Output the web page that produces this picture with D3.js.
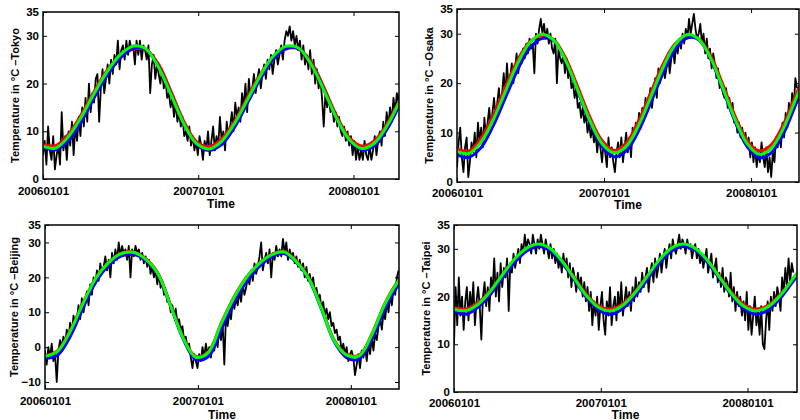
<!DOCTYPE html>
<html>
<head>
<meta charset="utf-8">
<script src="https://cdn.jsdelivr.net/npm/d3@7"></script>
<style>
  body { margin: 0; background: #fff; }
  svg text { font-family: "Liberation Sans", Arial, sans-serif; font-weight: bold; }
</style>
</head>
<body>
<svg id="chart" width="800" height="420"></svg>
<script>
// daily series are sampled every 4 days, fitted curves every 30 days, from 2006-01-01
var cities = ["Tokyo", "Osaka", "Beijing", "Taipei"]
var xTickLabels = ["20060101", "20070101", "20080101"]
var yTicksDefault = [0, 10, 20, 30, 35]
var yTicksBeijing = [-10, 0, 10, 20, 30, 35]

var tokyoDaily = [
  5, 8, 3, 11, 6, 4, 9, 2, 5, 7,
  3, 14, 6, 9, 4, 10, 7, 12, 5, 11,
  8, 13, 9, 15, 11, 17, 12, 20, 14, 18,
  16, 21, 22, 12, 19, 23, 18, 21, 24, 20,
  25, 22, 26, 24, 29, 23, 27, 28, 25, 29,
  26, 29, 27, 28, 24, 29, 26, 29, 25, 28,
  27, 25, 28, 18, 24, 26, 21, 24, 22, 20,
  23, 19, 21, 17, 18, 15, 17, 13, 16, 12,
  14, 11, 13, 9, 10, 8, 11, 7, 9, 6,
  8, 5, 9, 7, 4, 8, 6, 10, 5, 8,
  11, 6, 9, 7, 13, 8, 10, 6, 12, 9,
  11, 14, 10, 16, 13, 15, 12, 18, 15, 20,
  14, 21, 17, 19, 22, 18, 21, 23, 19, 22,
  24, 21, 25, 23, 26, 22, 25, 27, 24, 26,
  28, 25, 29, 31, 30, 32, 29, 31, 28, 30,
  27, 29, 25, 28, 24, 26, 23, 27, 22, 25,
  20, 23, 19, 21, 17, 11, 18, 15, 17, 14,
  15, 12, 14, 11, 13, 10, 9, 11, 8, 10,
  7, 9, 5, 8, 4, 7, 4, 6, 4, 8,
  5, 4, 7, 4, 6, 9, 5, 8, 10, 7,
  12, 9, 14, 11, 15, 12, 17, 14, 18, 16,
  19, 17
]
var tokyoRed = [7.2, 7.0, 9.4, 13.5, 18.3, 22.7, 25.8, 27.2, 27.2, 24.3, 18.6, 12.3, 7.9, 6.8, 8.4, 12.0, 17.0, 21.8, 25.4, 27.2, 27.3, 24.6, 19.3, 13.3, 8.7, 6.9, 8.1, 11.7, 16.7, 21.3]
var tokyoBlue = [6.6, 6.1, 8.0, 12.0, 17.0, 21.6, 25.2, 27.3, 27.3, 23.8, 18.0, 11.8, 7.3, 6.0, 7.2, 10.8, 15.8, 20.8, 25.0, 27.3, 27.4, 24.2, 18.8, 12.8, 8.1, 6.1, 7.0, 10.6, 15.8, 20.8]
var tokyoGreen = [6.8, 6.5, 8.9, 13.0, 17.9, 22.4, 25.9, 27.8, 27.4, 23.7, 17.9, 11.8, 7.5, 6.3, 7.9, 11.6, 16.5, 21.5, 25.6, 27.8, 27.5, 24.1, 18.7, 12.8, 8.3, 6.4, 7.6, 11.3, 16.5, 21.5]

var osakaDaily = [
  3, 8, 11, 5, 2, 7, 9, 1, 4, 8,
  6, 10, 5, 12, 8, 11, 7, 13, 9, 12,
  15, 11, 14, 17, 13, 16, 19, 15, 18, 22,
  17, 24, 19, 21, 24, 20, 23, 26, 22, 25,
  24, 27, 25, 28, 26, 29, 27, 28, 22, 30,
  28, 31, 33, 30, 32, 29, 31, 28, 30, 27,
  26, 29, 20, 27, 25, 24, 26, 22, 25, 21,
  23, 19, 20, 17, 19, 15, 16, 13, 15, 12,
  14, 10, 12, 9, 11, 8, 10, 6, 9, 7,
  4, 8, 6, 3, 9, 5, 7, 4, 2, 6,
  8, 5, 9, 4, 7, 10, 6, 9, 5, 11,
  9, 12, 10, 14, 11, 15, 13, 17, 14, 16,
  19, 15, 18, 21, 17, 23, 20, 22, 24, 21,
  23, 26, 22, 25, 27, 24, 28, 26, 29, 27,
  30, 28, 31, 29, 33, 30, 32, 34, 31, 29,
  30, 32, 28, 30, 26, 29, 25, 27, 23, 26,
  24, 21, 23, 19, 20, 18, 17, 19, 15, 17,
  14, 16, 12, 13, 10, 12, 9, 11, 8, 10,
  7, 9, 5, 8, 4, 7, 3, 6, 4, 8,
  5, 3, 7, 2, 5, 1, 6, 4, 9, 7,
  10, 7, 12, 9, 14, 11, 16, 13, 18, 15,
  21, 19
]
var osakaRed = [6.7, 6.3, 8.9, 13.5, 19.2, 24.6, 28.3, 29.6, 28.8, 25.0, 19.2, 13.1, 8.4, 6.4, 7.9, 12.2, 17.9, 23.6, 27.8, 29.6, 29.0, 25.5, 19.7, 13.4, 8.4, 6.3, 7.5, 11.6, 17.4, 23.0]
var osakaBlue = [5.5, 5.0, 7.0, 11.4, 17.0, 22.6, 27.0, 29.0, 28.6, 24.4, 18.3, 12.0, 7.2, 5.1, 6.3, 10.2, 15.8, 21.7, 26.6, 29.1, 28.8, 24.8, 18.7, 12.3, 7.2, 4.9, 5.9, 9.7, 15.5, 21.5]
var osakaGreen = [6.2, 5.8, 8.1, 12.6, 18.3, 23.9, 28.1, 29.9, 28.7, 24.5, 18.5, 12.4, 7.8, 5.9, 7.2, 11.3, 17.0, 22.9, 27.6, 29.8, 28.9, 25.0, 19.0, 12.7, 7.8, 5.6, 6.8, 10.8, 16.6, 22.5]

var beijingDaily = [
  -1, -5, 0, -3, 1, -4, -2, -10, -1, 2,
  0, 3, 1, 5, 2, 7, 4, 9, 6, 8,
  12, 8, 14, 10, 13, 16, 12, 18, 15, 20,
  18, 22, 19, 24, 21, 23, 26, 22, 25, 20,
  27, 24, 28, 25, 30, 26, 29, 27, 28, 25,
  29, 20, 28, 26, 29, 27, 28, 25, 27, 24,
  26, 23, 25, 21, 23, 20, 22, 18, 21, 17,
  19, 15, 16, 13, 14, 10, 12, 9, 11, 7,
  8, 5, 6, 2, 3, 0, 1, -3, -6, -2,
  -4, -6, -2, -4, 0, -3, 1, -2, 0, -3,
  1, -1, 3, 0, 5, 2, 7, -5, 9, 6,
  10, 8, 13, 11, 14, 12, 16, 13, 18, 15,
  17, 20, 18, 22, 19, 24, 21, 23, 26, 30,
  22, 25, 27, 24, 28, 20, 27, 25, 29, 26,
  28, 26, 31, 27, 30, 25, 28, 26, 27, 24,
  26, 23, 25, 22, 24, 20, 23, 19, 21, 18,
  20, 16, 17, 14, 15, 11, 13, 9, 11, 8,
  10, 6, 7, 4, 5, 2, 3, -1, 1, -2,
  0, -4, -2, -1, -3, -8, -5, -2, -6, -1,
  -3, 0, -4, 1, -2, 3, -1, 4, 2, 6,
  8, 5, 10, 8, 13, 10, 15, 12, 17, 15,
  20, 22
]
var beijingRed = [-2.5, -1.0, 4.7, 12.5, 19.6, 24.1, 26.8, 27.3, 25.4, 21.1, 12.0, 2.7, -2.7, -1.3, 6.7, 14.1, 19.9, 23.9, 26.5, 27.4, 24.7, 19.8, 11.3, 2.1, -2.1, -2.3, 3.7, 12.2, 18.5, 22.7]
var beijingBlue = [-3.2, -2.3, 3.0, 11.0, 18.4, 23.2, 26.0, 26.6, 24.9, 20.7, 11.7, 2.3, -3.5, -2.7, 4.8, 12.5, 18.6, 22.9, 25.8, 26.8, 24.3, 19.4, 10.9, 1.7, -3.0, -3.4, 2.2, 10.6, 17.2, 21.6]
var beijingGreen = [-2.6, -1.2, 4.5, 12.3, 19.5, 24.0, 26.7, 27.2, 25.2, 20.9, 11.8, 2.5, -2.9, -1.5, 6.5, 13.9, 19.8, 23.8, 26.4, 27.3, 24.5, 19.6, 11.1, 1.9, -2.3, -2.5, 3.5, 12.0, 18.3, 22.5]

var taipeiDaily = [
  10, 22, 14, 24, 16, 20, 13, 19, 22, 15,
  21, 17, 23, 14, 19, 22, 18, 11, 20, 23,
  18, 22, 17, 24, 21, 28, 20, 25, 19, 27,
  22, 26, 24, 28, 17, 27, 25, 29, 26, 28,
  30, 27, 31, 29, 33, 30, 32, 31, 29, 33,
  31, 29, 32, 30, 33, 31, 29, 32, 30, 28,
  31, 28, 30, 27, 29, 26, 28, 25, 29, 26,
  28, 24, 27, 22, 26, 24, 21, 25, 22, 24,
  20, 23, 19, 22, 17, 21, 14, 19, 16, 20,
  13, 18, 21, 15, 12, 19, 16, 22, 14, 18,
  20, 15, 21, 17, 23, 16, 19, 22, 18, 21,
  17, 22, 19, 24, 20, 23, 21, 25, 22, 24,
  26, 21, 25, 27, 23, 28, 24, 26, 29, 25,
  28, 30, 26, 29, 31, 28, 32, 30, 29, 31,
  33, 30, 32, 31, 29, 32, 30, 31, 28, 30,
  31, 28, 30, 27, 29, 26, 28, 30, 25, 27,
  29, 24, 26, 28, 23, 25, 22, 26, 21, 24,
  23, 20, 25, 19, 22, 17, 21, 18, 20, 16,
  19, 15, 21, 13, 18, 12, 16, 20, 14, 17,
  12, 18, 10, 9, 15, 19, 13, 20, 17, 21,
  18, 22, 20, 17, 24, 21, 26, 22, 28, 23,
  27, 25
]
var taipeiRed = [17.7, 17.4, 18.7, 21.2, 24.5, 27.6, 29.8, 30.6, 29.8, 27.3, 23.9, 20.4, 18.0, 17.4, 18.5, 21.0, 24.2, 27.4, 29.8, 30.6, 29.9, 27.6, 24.3, 20.9, 18.4, 17.4, 18.1, 20.3, 23.4, 26.6]
var taipeiBlue = [17.0, 16.3, 17.8, 20.4, 23.8, 27.1, 29.5, 30.5, 29.6, 26.9, 23.4, 19.8, 17.2, 16.3, 17.5, 20.1, 23.5, 26.9, 29.5, 30.5, 29.7, 27.2, 23.8, 20.3, 17.5, 16.3, 17.1, 19.5, 22.8, 26.2]
var taipeiGreen = [17.3, 17.05, 18.4, 21.05, 24.5, 27.8, 30.1, 31.0, 30.0, 27.3, 23.7, 20.1, 17.7, 17.0, 18.2, 20.8, 24.2, 27.6, 30.1, 31.0, 30.1, 27.6, 24.1, 20.6, 18.0, 17.0, 17.8, 20.1, 23.4, 26.8]

var start = new Date(2006, 0, 1)
var dailyStep = 4
var smoothStep = 30
var tickDates = [new Date(2006, 0, 1), new Date(2007, 0, 1), new Date(2008, 0, 1)]

var panels = [
  { city: cities[0], left: 43, right: 399, top: 12, bottom: 179, ymin: 0, days: 837, ticks: yTicksDefault,
    labelX: 15, tickPad: 8, timeDy: 28.5, daily: tokyoDaily, red: tokyoRed, blue: tokyoBlue, green: tokyoGreen },
  { city: cities[1], left: 457, right: 799, top: 9, bottom: 182, ymin: 0, days: 849, ticks: yTicksDefault,
    labelX: 429, tickPad: 7, timeDy: 27, daily: osakaDaily, red: osakaRed, blue: osakaBlue, green: osakaGreen },
  { city: cities[2], left: 45, right: 399, top: 225, bottom: 389, ymin: -12, days: 845, ticks: yTicksBeijing,
    labelX: 14, tickPad: 7.5, timeDy: 29.5, daily: beijingDaily, red: beijingRed, blue: beijingBlue, green: beijingGreen },
  { city: cities[3], left: 454, right: 797, top: 225, bottom: 392, ymin: 0, days: 853, ticks: yTicksDefault,
    labelX: 426, tickPad: 6.5, timeDy: 26.5, daily: taipeiDaily, red: taipeiRed, blue: taipeiBlue, green: taipeiGreen }
]

var svg = d3.select('#chart')

panels.forEach(function (p, k) {
  var x = d3.scaleTime()
    .domain([start, d3.timeDay.offset(start, p.days)])
    .range([p.left, p.right])
  var y = d3.scaleLinear()
    .domain([p.ymin, 35])
    .range([p.bottom, p.top])

  var g = svg.append('g')

  g.append('clipPath').attr('id', 'clip' + k)
    .append('rect')
    .attr('x', p.left).attr('y', p.top)
    .attr('width', p.right - p.left).attr('height', p.bottom - p.top)

  var plot = g.append('g').attr('clip-path', 'url(#clip' + k + ')')

  var dailyLine = d3.line()
    .x(function (d, i) { return x(d3.timeDay.offset(start, i * dailyStep)) })
    .y(function (d) { return y(d) })

  var smoothLine = d3.line()
    .x(function (d, i) { return x(d3.timeDay.offset(start, i * smoothStep)) })
    .y(function (d) { return y(d) })
    .curve(d3.curveCatmullRom)

  plot.append('path').datum(p.daily)
    .attr('d', dailyLine)
    .attr('fill', 'none').attr('stroke', '#000').attr('stroke-width', 1.8)
    .attr('stroke-linejoin', 'round')

  var fits = [[p.red, '#ff0000'], [p.blue, '#0000ff'], [p.green, '#00ff00']]
  fits.forEach(function (f) {
    plot.append('path').datum(f[0])
      .attr('d', smoothLine)
      .attr('fill', 'none').attr('stroke', f[1]).attr('stroke-width', 3)
      .attr('stroke-linejoin', 'round')
  })

  // MATLAB style inward ticks on all four sides
  var fmt = function (d) { return d < 0 ? '\u2212' + Math.abs(d) : String(d) }

  var yl = g.append('g').attr('transform', 'translate(' + p.left + ',0)')
    .call(d3.axisLeft(y).tickValues(p.ticks).tickSize(-4).tickPadding(4).tickFormat(fmt))
  var yr = g.append('g').attr('transform', 'translate(' + p.right + ',0)')
    .call(d3.axisRight(y).tickValues(p.ticks).tickSize(-4).tickFormat(''))
  var xb = g.append('g').attr('transform', 'translate(0,' + p.bottom + ')')
    .call(d3.axisBottom(x).tickValues(tickDates).tickSize(-4).tickPadding(p.tickPad)
      .tickFormat(function (d, i) { return xTickLabels[i] }))
  var xt = g.append('g').attr('transform', 'translate(0,' + p.top + ')')
    .call(d3.axisTop(x).tickValues(tickDates).tickSize(-4).tickFormat(''))

  ;[yl, yr, xb, xt].forEach(function (a) {
    a.select('.domain').remove()
    a.selectAll('line').attr('stroke', '#000')
    a.selectAll('text')
      .attr('fill', '#000')
      .style('font-family', '"Liberation Sans", Arial, sans-serif')
      .style('font-weight', 'bold')
      .style('font-size', '11.5px')
  })

  g.append('rect')
    .attr('x', p.left).attr('y', p.top)
    .attr('width', p.right - p.left).attr('height', p.bottom - p.top)
    .attr('fill', 'none').attr('stroke', '#000').attr('stroke-width', 1.5)

  g.append('text')
    .attr('x', (p.left + p.right) / 2)
    .attr('y', p.bottom + p.timeDy)
    .attr('text-anchor', 'middle')
    .style('font-size', '12px')
    .text('Time')

  g.append('text')
    .attr('transform', 'translate(' + p.labelX + ',' + (p.top + p.bottom) / 2 + ') rotate(-90)')
    .attr('text-anchor', 'middle')
    .attr('dy', '0.35em')
    .style('font-size', '11px')
    .text('Temperature in \u00b0C \u2013' + p.city)
})
</script>
</body>
</html>
